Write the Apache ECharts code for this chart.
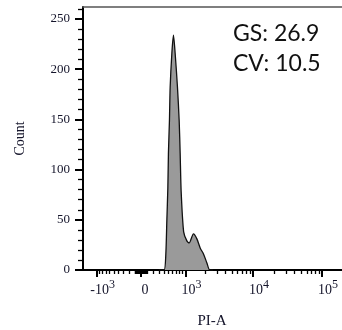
<!DOCTYPE html>
<html>
<head>
<meta charset="utf-8">
<script src="https://cdn.jsdelivr.net/npm/echarts@6/dist/echarts.min.js"></script>
<style>
html,body{margin:0;padding:0;background:#fff;overflow:hidden;}
#chart{width:342px;height:330px;}
</style>
</head>
<body>
<div id="chart"></div>
<script>
// ---- data (PI-A values and counts) ----
const piA = [300, 405, 442, 464, 487, 500, 524, 541, 583, 624, 669, 735, 786, 817, 849, 933, 1051, 1143, 1333, 1503, 1686, 1890, 2124, 2337, 2600];
const counts = [0, 0, 16, 49, 82, 116, 149, 182, 216, 234, 216, 182, 149, 116, 78, 38, 29, 27, 36, 31, 22, 16, 7, 0, 0];

// ---- axis ticks ----
const xMajor = [-1000, 0, 1000, 10000, 100000];
const xMajorLabels = ['-10|3', '0', '10|3', '10|4', '10|5'];
const xMinor = [-900,-800,-700,-600,-500,-400,-300,-200,-100,
  -90,-80,-70,-60,-50,-40,-30,-20,-10,
  10,20,30,40,50,60,70,80,90,
  100,200,300,400,500,600,700,800,900,
  2000,3000,4000,5000,6000,7000,8000,9000,
  20000,30000,40000,50000,60000,70000,80000,90000,200000];
const yMajor = [0, 50, 100, 150, 200, 250];
const yMinor = [10,20,30,40,60,70,80,90,110,120,130,140,160,170,180,190,210,220,230,240,260];

const X_MIN = -1630, X_MAX = 262144, Y_MAX = 262;
const COF = 480;
function T(v){ return Math.asinh(v / COF); }

const stats = ['GS: 26.9', 'CV: 10.5'];

const chart = echarts.init(document.getElementById('chart'), null, {renderer:'canvas'});
const serif = '"Liberation Serif", "Times New Roman", serif';
const txt = '#14142a';

function xLabel(val){
  let best = 0, bd = 1e9;
  xMajor.forEach((m,i)=>{ const d = Math.abs(T(m)-val); if(d<bd){bd=d;best=i;} });
  const s = xMajorLabels[best];
  if (s.indexOf('|') < 0) return '{z|' + s + '}';
  const p = s.split('|');
  return '{n|' + p[0] + '}{s|' + p[1] + '}';
}

const xBase = {type:'value', min:T(X_MIN), max:T(X_MAX), gridIndex:0, splitLine:{show:false}};
const option = {
  animation:false,
  grid:{left:83, top:7, right:-9, bottom:60, containLabel:false, outerBoundsMode:'none'},
  xAxis:[
    Object.assign({}, xBase, {
      position:'bottom',
      name:'PI-A', nameLocation:'middle', nameGap:44,
      nameTextStyle:{fontFamily:serif, fontSize:15, color:txt, padding:[0,10,0,0]},
      axisLine:{show:true, onZero:false, lineStyle:{color:'#000', width:2}},
      axisTick:{show:true, customValues:xMajor.map(T), length:7, lineStyle:{color:'#000', width:2}},
      axisLabel:{show:true, customValues:xMajor.map(T), margin:9, formatter:xLabel,
        rich:{
          n:{fontFamily:serif, fontSize:14, color:txt, lineHeight:16, padding:[6,0,0,12]},
          s:{fontFamily:serif, fontSize:12, color:txt, lineHeight:12, verticalAlign:'top'},
          z:{fontFamily:serif, fontSize:14, color:txt, lineHeight:16, padding:[6,0,0,8]}
        }}
    }),
    Object.assign({}, xBase, {
      position:'bottom',
      axisLine:{show:false, onZero:false},
      axisTick:{show:true, customValues:xMinor.map(T), length:4, lineStyle:{color:'#000', width:1.3}},
      axisLabel:{show:false}
    }),
    Object.assign({}, xBase, {
      position:'top',
      axisLine:{show:true, onZero:false, lineStyle:{color:'#555', width:1.5}},
      axisTick:{show:false}, axisLabel:{show:false}
    })
  ],
  yAxis:[
    {type:'value', min:0, max:Y_MAX, position:'left', splitLine:{show:false},
     name:'Count', nameLocation:'middle', nameGap:56, nameRotate:90,
     nameTextStyle:{fontFamily:serif, fontSize:14, color:txt},
     axisLine:{show:true, onZero:false, lineStyle:{color:'#000', width:2}},
     axisTick:{show:true, customValues:yMajor, length:8, lineStyle:{color:'#000', width:2}},
     axisLabel:{show:true, customValues:yMajor, margin:13, fontFamily:serif, fontSize:13, color:txt}},
    {type:'value', min:0, max:Y_MAX, position:'left', splitLine:{show:false},
     axisLine:{show:false, onZero:false},
     axisTick:{show:true, customValues:yMinor, length:5, lineStyle:{color:'#000', width:1.3}},
     axisLabel:{show:false}}
  ],
  series:[{
    type:'line', xAxisIndex:0, yAxisIndex:0,
    data: piA.map((v,i)=>[T(v), counts[i]]),
    symbol:'none', smooth:0.25,
    lineStyle:{color:'#111', width:1.3},
    areaStyle:{color:'#9a9a9a', opacity:1}
  }],
  graphic:[
    {type:'text', left:233, top:22, style:{text:stats[0], font:'23px Lato, "Open Sans", sans-serif', fill:'#111'}},
    {type:'text', left:233, top:52, style:{text:stats[1], font:'23px Lato, "Open Sans", sans-serif', fill:'#111'}}
  ]
};
chart.setOption(option);
</script>
</body>
</html>
